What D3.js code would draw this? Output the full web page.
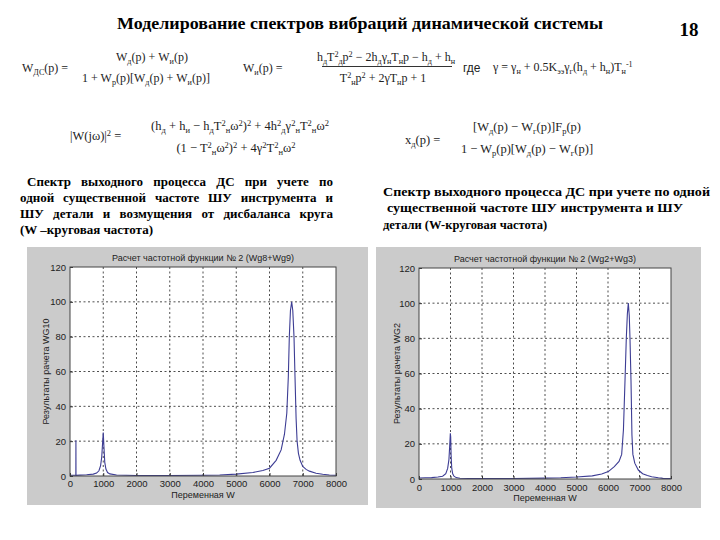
<!DOCTYPE html>
<html><head><meta charset="utf-8">
<script src="https://cdnjs.cloudflare.com/ajax/libs/d3/7.8.5/d3.min.js"></script>
<style>body{margin:0;background:#fff}svg{display:block}</style>
</head><body>
<script>
// ---------- data ----------
const xTicks = [0,1000,2000,3000,4000,5000,6000,7000,8000];
const yTicks = [0,20,40,60,80,100,120];

const leftW = [0,100,176,178,180,300,500,700,800,870,920,955,980,1000,1020,1045,1080,1130,1200,1400,2000,3000,4000,4500,5000,5500,5800,6000,6200,6350,6450,6520,6566,6596,6630,6667,6700,6737,6767,6800,6830,6870,6920,7000,7100,7200,7400,7600,7800,8000];
const leftV = [0.4,0.4,0.4,20.5,0.4,0.5,0.7,1.1,1.7,3,6,11,19,25,17,8,4,2,1.2,0.6,0.3,0.3,0.4,0.6,1.1,2,3.2,4.5,9,15,24,36,57,80,95,100,95,80,57,33,20,13,9,5.5,3.8,2.8,1.6,1,0.6,0.4];

const rightW = [0,200,400,600,750,850,910,950,975,995,1006,1020,1040,1070,1110,1180,1300,1600,2000,3000,4000,4500,5000,5500,5800,6010,6200,6350,6434,6490,6540,6581,6615,6645,6675,6698,6730,6760,6790,6850,6963,7100,7250,7386,7600,7700,7760,8000];
const rightV = [0.6,0.7,0.8,1.1,1.6,3,6,11,19,26,24,13,6,3,1.6,0.8,0.4,0.3,0.2,0.3,0.5,0.7,1.1,1.8,2.8,4.2,7,10,14,28,56,80,94,100,93,80,56,25,14,9,5.1,3,2,1.3,0.7,0.5,0.2,0.2];

const titleText = "Моделирование спектров вибраций динамической системы";
const pageNo = "18";
const leftCaption = ["Спектр выходного процесса ДС при учете по","одной существенной частоте ШУ инструмента и","ШУ детали и возмущения от дисбаланса круга","(W –круговая частота)"];
const rightCaption = ["Спектр выходного процесса ДС при учете по одной","существенной частоте ШУ инструмента и ШУ","детали (W-круговая частота)"];

const charts = [
  {W:leftW, V:leftV, title:"Расчет частотной функции № 2 (Wg8+Wg9)", ylab:"Результаты рачета WG10", xlab:"Переменная W",
   panel:[27,247,341,258], plot:[70,267,336,476], ylx:46, xly:498, xtly:487},
  {W:rightW, V:rightV, title:"Расчет частотной функции № 2 (Wg2+Wg3)", ylab:"Результаты рачета WG2", xlab:"Переменная W",
   panel:[376,247,325,261], plot:[419,268,671,479], ylx:397, xly:501, xtly:491}
];

// ---------- drawing ----------
const svg = d3.select("body").append("svg").attr("width",720).attr("height",540);
const serif = "'Liberation Serif','Times New Roman',serif";
const sans = "'Liberation Sans',Arial,sans-serif";

svg.append("text").attr("x",360).attr("y",29).attr("text-anchor","middle")
  .attr("font-family",serif).attr("font-weight","bold").attr("font-size",17.5)
  .attr("textLength",486).attr("lengthAdjust","spacingAndGlyphs").text(titleText);
svg.append("text").attr("x",689).attr("y",36).attr("text-anchor","middle")
  .attr("font-family",serif).attr("font-weight","bold").attr("font-size",19).text(pageNo);

// rich text helper: _{sub} ^{sup}
function rich(x,y,str,size,anchor,fam){
  const t = svg.append("text").attr("x",x).attr("y",y).attr("font-size",size)
    .attr("text-anchor",anchor||"start").attr("font-family",fam||serif).attr("fill","#222");
  const re = /(_\{[^}]*\}|\^\{[^}]*\})/g;
  const parts = str.split(re).filter(s=>s.length);
  let shift = 0;
  parts.forEach(p=>{
    let target=0, fs=size, txt=p;
    if(p.startsWith("_{")){target=3; fs=size*0.68; txt=p.slice(2,-1);}
    else if(p.startsWith("^{")){target=-4.5; fs=size*0.68; txt=p.slice(2,-1);}
    t.append("tspan").attr("dy",target-shift).attr("font-size",fs).text(txt);
    shift=target;
  });
  return t;
}
// formula 1
rich(22,72,"W_{ДС}(p) =",12);
rich(152,61,"W_{д}(p) + W_{и}(p)",12,"middle");
rich(146,82,"1 + W_{р}(p)[W_{д}(p) + W_{и}(p)]",12,"middle");
// formula 2
rich(243,72,"W_{и}(p) =",12);
rich(386,61,"h_{д}T^{2}_{д}p^{2} − 2h_{д}γ_{н}T_{н}p − h_{д} + h_{н}",12,"middle");
svg.append("line").attr("x1",322).attr("x2",452).attr("y1",66.5).attr("y2",66.5).attr("stroke","#333").attr("stroke-width",1);
rich(383,82,"T^{2}_{н}p^{2} + 2γT_{н}p + 1",12,"middle");
rich(463,72,"где",12,"start",sans);
rich(493,71,"γ = γ_{н} + 0.5K_{ээ}γ_{г}(h_{д} + h_{н})T_{н}^{-1}",12);
// formula 3
rich(70,140,"|W(jω)|^{2} =",12.5);
rich(240,130,"(h_{д} + h_{и} − h_{д}T^{2}_{н}ω^{2})^{2} + 4h^{2}_{д}γ^{2}_{н}T^{2}_{н}ω^{2}",12.5,"middle");
rich(236,152,"(1 − T^{2}_{н}ω^{2})^{2} + 4γ^{2}T^{2}_{н}ω^{2}",12.5,"middle");
// formula 4
rich(405,144,"x_{д}(p) =",12.5);
rich(527,131,"[W_{д}(p) − W_{г}(p)]F_{р}(p)",12.5,"middle");
rich(527,153,"1 − W_{р}(p)[W_{д}(p) − W_{г}(p)]",12.5,"middle");

// captions (justified by word spacing)
function justify(t, target){
  const s = t.text(); const n = (s.match(/ /g)||[]).length;
  const w = t.node().getComputedTextLength();
  if(n>0 && w<target) t.attr("word-spacing",(target-w)/n);
}
const capL = [[27,186,306],[20,202,313],[20,218,313],[20,234,null]];
leftCaption.forEach((s,i)=>{
  const t = svg.append("text").attr("x",capL[i][0]).attr("y",capL[i][1])
    .attr("font-family",serif).attr("font-weight","bold").attr("font-size",13).text(s);
  if(capL[i][2]) justify(t,capL[i][2]);
});
const capR = [[383,196,327],[387,212,296],[383,229,null]];
rightCaption.forEach((s,i)=>{
  const t = svg.append("text").attr("x",capR[i][0]).attr("y",capR[i][1])
    .attr("font-family",serif).attr("font-weight","bold").attr("font-size",12.5).text(s);
  if(capR[i][2]) t.attr("textLength",capR[i][2]).attr("lengthAdjust","spacingAndGlyphs");
});

// charts
charts.forEach((c,ci)=>{
  const [px,py,pw,ph] = c.panel;
  const [x0,y0,x1,y1] = c.plot;
  svg.append("rect").attr("x",px).attr("y",py).attr("width",pw).attr("height",ph).attr("fill","#cbcbcb");
  svg.append("rect").attr("x",x0).attr("y",y0).attr("width",x1-x0).attr("height",y1-y0).attr("fill","#fff");
  const x = d3.scaleLinear().domain([0,8000]).range([x0,x1]);
  const y = d3.scaleLinear().domain([0,120]).range([y1,y0]);
  const g = svg.append("g");
  // grid
  g.selectAll(".gx").data(xTicks.slice(1,-1)).enter().append("line")
    .attr("x1",d=>x(d)).attr("x2",d=>x(d)).attr("y1",y0).attr("y2",y1)
    .attr("stroke","#222").attr("stroke-width",0.8).attr("stroke-dasharray","2,2.5");
  g.selectAll(".gy").data(yTicks.slice(1,-1)).enter().append("line")
    .attr("x1",x0).attr("x2",x1).attr("y1",d=>y(d)).attr("y2",d=>y(d))
    .attr("stroke","#222").attr("stroke-width",0.8).attr("stroke-dasharray","2,2.5");
  // curve
  const clipId = "clip"+ci;
  svg.append("clipPath").attr("id",clipId).append("rect").attr("x",x0).attr("y",y0-1).attr("width",x1-x0).attr("height",y1-y0+1);
  const pts = c.W.map((w,i)=>[w,c.V[i]]);
  g.append("path").attr("clip-path",`url(#${clipId})`).datum(pts)
    .attr("d",d3.line().x(d=>x(d[0])).y(d=>y(d[1])))
    .attr("fill","none").attr("stroke","#3d3d94").attr("stroke-width",1.1);
  // axes
  const ax = d3.axisBottom(x).tickValues(xTicks).tickSize(-3).tickPadding(5).tickFormat(d3.format("d"));
  const ay = d3.axisLeft(y).tickValues(yTicks).tickSize(-3).tickPadding(4);
  const gx = g.append("g").attr("transform",`translate(0,${y1})`).call(ax);
  const gy = g.append("g").attr("transform",`translate(${x0},0)`).call(ay);
  [gx,gy].forEach(a=>{
    a.select(".domain").remove();
    a.selectAll("line").attr("stroke","#333");
    a.selectAll("text").attr("font-family",sans).attr("font-size",9.5).attr("fill","#222");
  });
  gx.selectAll("text").attr("dy",null).attr("y",null).attr("transform",`translate(0,${c.xtly-y1})`);
  g.append("rect").attr("x",x0).attr("y",y0).attr("width",x1-x0).attr("height",y1-y0)
    .attr("fill","none").attr("stroke","#444").attr("stroke-width",1);
  // labels
  svg.append("text").attr("x",(x0+x1)/2).attr("y",y0-6).attr("text-anchor","middle")
    .attr("font-family",sans).attr("font-size",9).attr("fill","#222").text(c.title);
  svg.append("text").attr("x",(x0+x1)/2).attr("y",c.xly).attr("text-anchor","middle")
    .attr("font-family",sans).attr("font-size",9).attr("fill","#222").text(c.xlab);
  svg.append("text").attr("transform",`translate(${c.ylx},${(y0+y1)/2}) rotate(-90)`).attr("text-anchor","middle")
    .attr("dy","0.35em").attr("font-family",sans).attr("font-size",9).attr("fill","#222").text(c.ylab);
});
</script>
</body></html>
